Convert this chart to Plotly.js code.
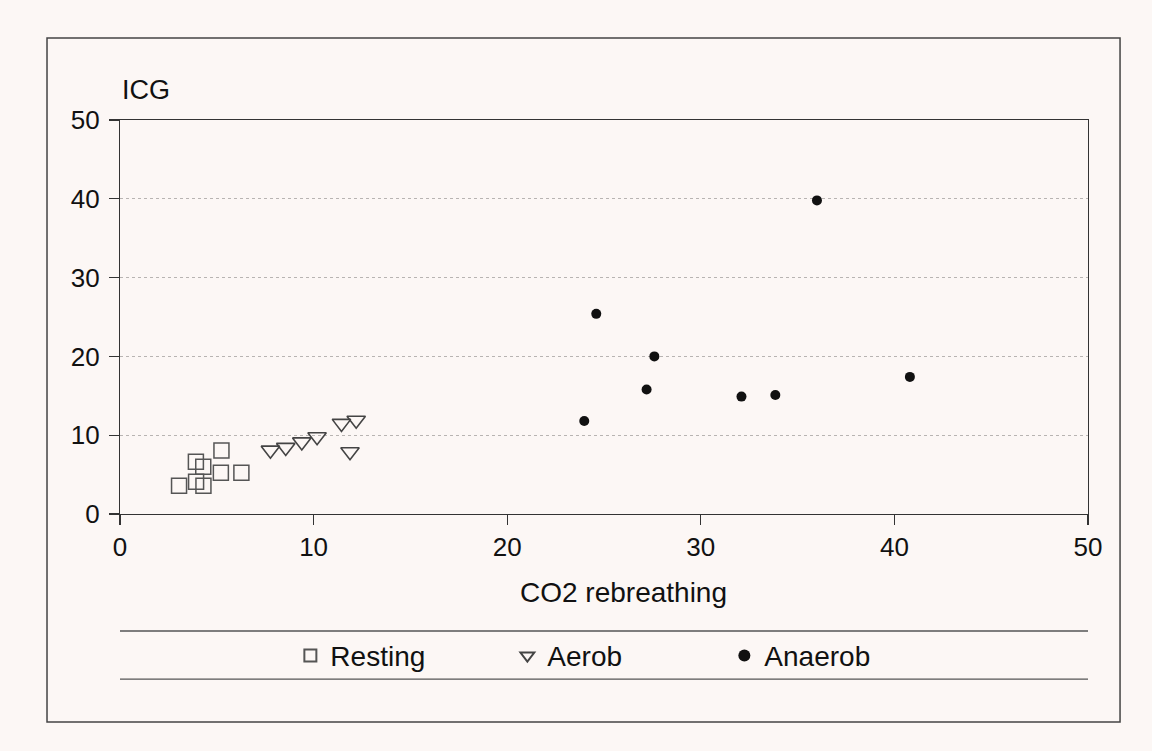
<!DOCTYPE html>
<html>
<head>
<meta charset="utf-8">
<script src="https://cdn.plot.ly/plotly-3.0.1.min.js"></script>
<style>
  html, body { margin: 0; padding: 0; background: #fcf7f5; }
  #chart { width: 1152px; height: 751px; }
</style>
</head>
<body>
<div id="chart"></div>
<script>
// ---- data ----
const seriesNames = ["Resting", "Aerob", "Anaerob"];

const restingX = [3.05, 5.24, 3.92, 4.30, 3.93, 4.31, 5.21, 6.27];
const restingY = [3.57, 8.05, 6.62, 6.00, 4.09, 3.59, 5.22, 5.25];

const aerobX = [7.77, 8.56, 9.39, 10.18, 11.44, 12.20, 11.88];
const aerobY = [8.10, 8.45, 9.15, 9.80, 11.50, 11.90, 7.90];

const anaerobX = [36.0, 24.6, 27.6, 27.2, 32.1, 33.85, 23.98, 40.8];
const anaerobY = [39.8, 25.4, 20.0, 15.8, 14.9, 15.1, 11.8, 17.4];

const tickVals = [0, 10, 20, 30, 40, 50];
const xTitle = "CO2 rebreathing";
const yTitle = "ICG";

// ---- chart ----
const font = "Liberation Sans, Arial, Helvetica, sans-serif";
const bg = "#fcf7f5";

const traces = [
  {
    type: "scatter", mode: "markers", name: seriesNames[0],
    x: restingX, y: restingY,
    marker: { symbol: "square-open", size: 15, color: "#555", line: { width: 1.5, color: "#555" } }
  },
  {
    type: "scatter", mode: "markers", name: seriesNames[1],
    x: aerobX, y: aerobY,
    marker: { symbol: "triangle-down-open", size: 16, color: "#444", line: { width: 1.6, color: "#444" } }
  },
  {
    type: "scatter", mode: "markers", name: seriesNames[2],
    x: anaerobX, y: anaerobY,
    marker: { symbol: "circle", size: 10, color: "#111" }
  }
];

const axisCommon = {
  range: [0, 50],
  tickvals: tickVals,
  ticktext: tickVals.map(String),
  ticks: "outside",
  ticklen: 10,
  tickwidth: 1.2,
  tickcolor: "#333",
  showline: true,
  linecolor: "#333",
  linewidth: 1.2,
  mirror: true,
  zeroline: false,
  tickfont: { family: font, size: 26, color: "#111" },
  fixedrange: true
};

const layout = {
  width: 1152,
  height: 751,
  paper_bgcolor: bg,
  plot_bgcolor: bg,
  margin: { l: 120, r: 64, t: 120, b: 237 },
  font: { family: font, color: "#111" },
  showlegend: true,
  legend: {
    orientation: "h",
    x: 0.176, xanchor: "left",
    y: -0.36, yanchor: "middle",
    bgcolor: "rgba(0,0,0,0)",
    font: { family: font, size: 28, color: "#111" },
    entrywidth: 172, entrywidthmode: "pixels",
    itemsizing: "constant"
  },
  xaxis: Object.assign({}, axisCommon, {
    showgrid: false
  }),
  yaxis: Object.assign({}, axisCommon, {
    showgrid: true,
    gridcolor: "#b8b4b2",
    gridwidth: 1,
    griddash: "dot",
    ticklabelstandoff: 4
  }),
  annotations: [
    {
      text: yTitle, xref: "paper", yref: "paper",
      x: 0.0, y: 1.076, xanchor: "left", yanchor: "middle",
      showarrow: false, font: { family: font, size: 27, color: "#111" }
    },
    {
      text: xTitle, xref: "paper", yref: "paper",
      x: 0.52, y: -0.198, xanchor: "center", yanchor: "middle",
      showarrow: false, font: { family: font, size: 28, color: "#111" }
    }
  ],
  shapes: [
    { type: "rect", xref: "paper", yref: "paper", x0: -0.0754, x1: 1.0331, y0: -0.528, y1: 1.208,
      line: { color: "#444", width: 1.5 }, fillcolor: "rgba(0,0,0,0)" },
    { type: "line", xref: "paper", yref: "paper", x0: 0, x1: 1, y0: -0.297, y1: -0.297,
      line: { color: "#555", width: 1.3 } },
    { type: "line", xref: "paper", yref: "paper", x0: 0, x1: 1, y0: -0.419, y1: -0.419,
      line: { color: "#555", width: 1.3 } }
  ]
};

Plotly.newPlot("chart", traces, layout, { displayModeBar: false, staticPlot: true });
</script>
</body>
</html>
